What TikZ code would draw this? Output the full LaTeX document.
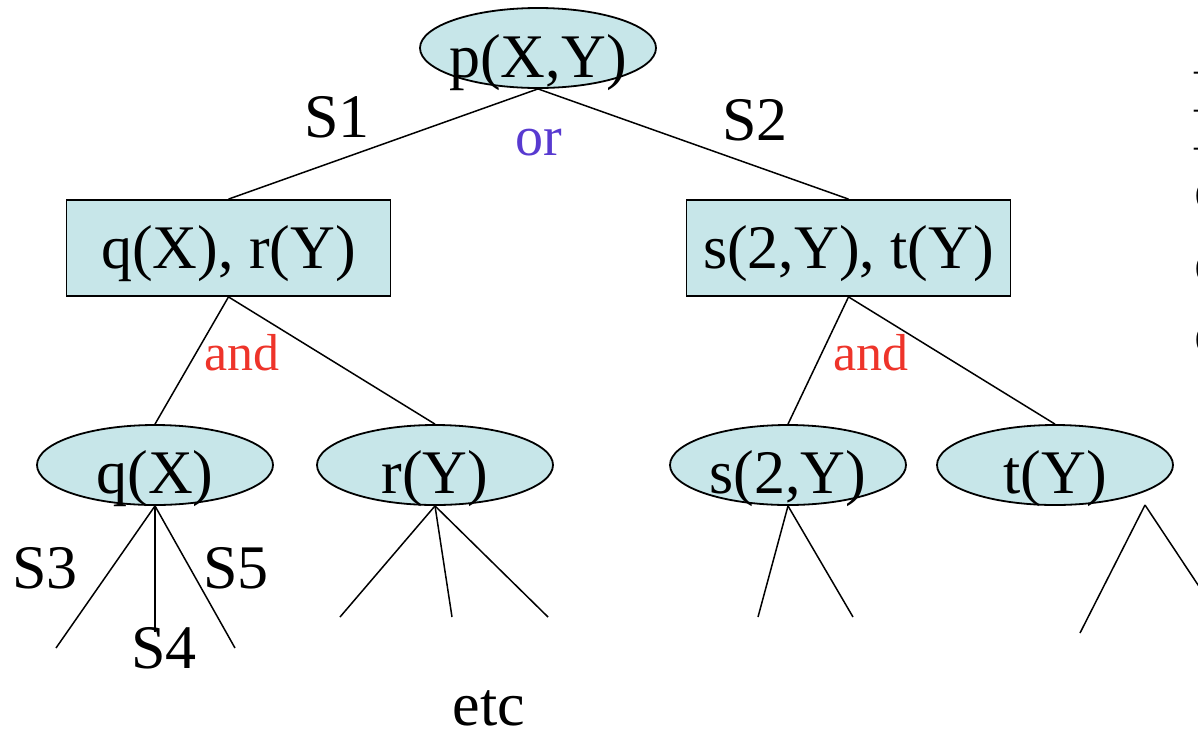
\documentclass[tikz,border=0pt]{standalone}
\usepackage{fontspec}
\setmainfont{Liberation Serif}
\usetikzlibrary{shapes.geometric}
\definecolor{nodefill}{RGB}{199,230,233}
\definecolor{orcol}{RGB}{88,58,208}
\definecolor{andcol}{RGB}{238,52,42}
\begin{document}
\begin{tikzpicture}[x=1pt,y=-1pt,
  big/.style={font=\fontsize{62}{70}\selectfont},
  oval/.style={ellipse,draw,line width=1.8pt,fill=nodefill,
    minimum width=236pt,minimum height=80pt,inner sep=0pt},
  goal/.style={rectangle,draw,line width=1.8pt,fill=nodefill,big,
    minimum width=324pt,minimum height=96pt,inner sep=0pt,
    text height=41pt,text depth=0pt},
  txt/.style={anchor=base,inner sep=0pt,big},
  conn/.style={line width=1.5pt},
  orlab/.style={anchor=base,inner sep=0pt,text=orcol,font=\fontsize{56}{60}\selectfont},
  andlab/.style={anchor=base,inner sep=0pt,text=andcol,font=\fontsize{52}{60}\selectfont},
  margin/.style={anchor=base west,inner sep=0pt,big}]
\useasboundingbox (0,0) rectangle (1198,732);
\clip (0,0) rectangle (1198,732);

% root goal
\node[oval] (p) at (538,48) {};
\node[txt] (pt) at (538,77) {p(X,Y)};

% conjunctions produced by the two clauses
\node[goal] (b1) at (228.5,248) {q(X), r(Y)};
\node[goal] (b2) at (848.5,248) {s(2,Y), t(Y)};

% single subgoals
\node[oval] (q) at (155,465) {};
\node[txt] (qt) at (155,493) {q(X)};
\node[oval] (r) at (435,465) {};
\node[txt] (rt) at (435,493) {r(Y)};
\node[oval] (s) at (788,465) {};
\node[txt] (st) at (788,493) {s(2,Y)};
\node[oval] (t) at (1055,465) {};
\node[txt] (tt) at (1055,493) {t(Y)};

% or-branch
\draw[conn] (p.south) -- (b1.north);
\draw[conn] (p.south) -- (b2.north);
\node[txt] (l1) at (337,137) {S1};
\node[txt] (l2) at (755,140) {S2};
\node[orlab] (lor) at (539,155) {or};

% and-branches
\draw[conn] (b1.south) -- (q.north);
\draw[conn] (b1.south) -- (r.north);
\draw[conn] (b2.south) -- (s.north);
\draw[conn] (b2.south) -- (t.north);
\node[andlab] (la1) at (242,370) {and};
\node[andlab] (la2) at (871,370) {and};

% further clause choices below the leaves
\coordinate (q1) at (56,648);
\coordinate (q2) at (155,632);
\coordinate (q3) at (235,648);
\draw[conn] (q.south) -- (q1);
\draw[conn] (q.south) -- (q2);
\draw[conn] (q.south) -- (q3);
\node[txt] (l3) at (45,588) {S3};
\node[txt] (l4) at (164,668) {S4};
\node[txt] (l5) at (236,588) {S5};

\coordinate (r1) at (340,617);
\coordinate (r2) at (452,617);
\coordinate (r3) at (548,617);
\draw[conn] (r.south) -- (r1);
\draw[conn] (r.south) -- (r2);
\draw[conn] (r.south) -- (r3);

\coordinate (s1) at (758,617);
\coordinate (s2) at (853,617);
\draw[conn] (s.south) -- (s1);
\draw[conn] (s.south) -- (s2);

\coordinate (ttop) at (1145,505);
\coordinate (t1) at (1080,633);
\coordinate (t2) at (1212,606);
\draw[conn] (ttop) -- (t1);
\draw[conn] (ttop) -- (t2);

\node[txt] (etc) at (489,725) {etc};

% text running off the right margin
\node[margin,font=\fontsize{40}{40}\selectfont] (m1) at (1194,82) {–};
\node[margin,font=\fontsize{40}{40}\selectfont] (m2) at (1194,120) {–};
\node[margin,font=\fontsize{40}{40}\selectfont] (m3) at (1194,158) {–};
\node[margin] (m4) at (1194.5,210) {c};
\node[margin] (m5) at (1194.5,283) {c};
\node[margin] (m6) at (1194.5,354) {c};
\end{tikzpicture}
\end{document}
